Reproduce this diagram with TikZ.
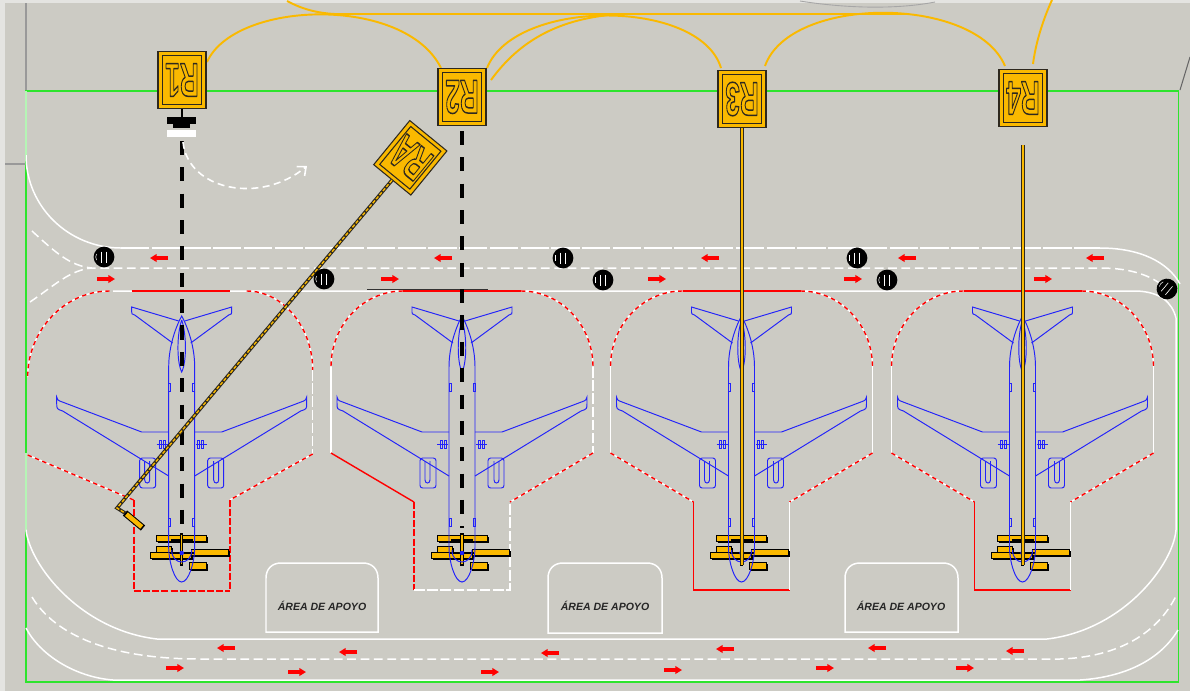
\documentclass[tikz,border=0pt]{standalone}
\usepackage{fontspec}
\usepackage{graphicx}
\setmainfont{Liberation Sans}
\usetikzlibrary{arrows.meta,calc}

\definecolor{apron}{RGB}{204,203,196}
\definecolor{edge}{RGB}{228,228,225}
\definecolor{limit}{RGB}{45,228,45}
\definecolor{signyel}{RGB}{250,185,0}
\definecolor{signdark}{RGB}{45,40,30}
\definecolor{acblue}{RGB}{35,35,250}
\definecolor{mark}{RGB}{255,0,0}

% glyphs filled in the current colour and stroked dark
\newcommand\outlined[1]{\special{pdf:literal direct 0.18 0.16 0.12 RG 0.85 w 1 j 2 Tr}#1\special{pdf:literal direct 0 Tr}}

\tikzset{
  wline/.style={draw=white, line width=0.85pt},
  wdash/.style={wline, dash pattern=on 5pt off 2.6pt},
  wlong/.style={wline, dash pattern=on 16pt off 1.5pt},
  wgap/.style={draw=white, line width=0.8pt, dash pattern=on 6pt off 1.5pt},
  rsolid/.style={draw=mark, line width=0.8pt},
  rw/.style={draw=white, line width=0.8pt, postaction={draw=mark, dash pattern=on 2.5pt off 2pt}},
  rbox/.style={draw=mark, line width=1pt, dash pattern=on 4pt off 1.2pt},
  acline/.style={draw=acblue, line width=0.55pt},
  leadblack/.style={draw=black, line width=2.2pt, dash pattern=on 8pt off 7pt},
  leadyel/.style={draw=signdark, line width=2pt, postaction={draw=signyel, line width=0.8pt}},
  leadyeldash/.style={draw=signdark, line width=2pt, postaction={draw=signyel, line width=0.8pt, dash pattern=on 2pt off 1pt}},
  arcline/.style={draw=signyel, line width=1.1pt},
  redarrow/.style={draw=mark, line width=1.8pt, -{Triangle[length=3.8pt,width=4.4pt]}},
  signouter/.style={draw=signdark, fill=signyel, line width=0.6pt, minimum width=0.96cm, minimum height=1.14cm, inner sep=0pt},
  signinner/.style={draw=signdark, line width=0.6pt, minimum width=0.78cm, minimum height=0.98cm, inner sep=0pt},
  signtxt/.style={font=\bfseries\fontsize{27}{27}\selectfont, text=signyel, inner sep=0pt},
  apoyo/.style={font=\bfseries\itshape\fontsize{6}{6}\selectfont, text=black!85, inner sep=0pt},
  pics/toright/.style={code={\draw[redarrow] (-9,0) -- (9,0);}},
  pics/toleft/.style={code={\draw[redarrow] (9,0) -- (-9,0);}},
  pics/marker/.style={code={
    \fill[black] (0,0) circle (5.9pt);
    \draw[white, line width=0.35pt] (-3,-5.5) -- (-3,5.5) (2.5,-5.5) -- (2.5,5.5);
    \draw[white, line width=0.3pt] (-7.5,-3) .. controls (-8.5,0) .. (-7.5,3);
  }},
  pics/gse/.style={code={
    \foreach \xa/\ya/\xb/\yb in {-25/535/25/541.5, -25/546/-10/552, -31/552/10/558, 10/549/47/555, 8/562/25/569} {
      \fill[black] (\xa+1.5,\ya+1.5) rectangle (\xb+1.5,\yb+1.5);
      \filldraw[fill=signyel, draw=black, line width=0.4pt] (\xa,\ya) rectangle (\xb,\yb);
    }
    \draw[black, line width=1.4pt] (-11,540) -- (11,540);
    \draw[black, line width=1.2pt] (-12,553) -- (12,553);
    \draw[black, line width=2pt] (0,533) -- (0,566);
    \draw[signyel, line width=0.7pt] (0,535) -- (0,564);
  }},
  pics/aircraft/.style={code={
    % fuselage and nose
    \draw[acline] (-13,367) -- (-13,547) .. controls (-13,562) and (-7,582) .. (0,582)
      .. controls (7,582) and (13,562) .. (13,547) -- (13,367)
      .. controls (13,345) and (5,325) .. (0,316) .. controls (-5,325) and (-13,345) .. (-13,367) -- cycle;
    % fin seen from above
    \draw[acline] (0,320) .. controls (-5,335) and (-5,362) .. (0,372) .. controls (5,362) and (5,335) .. (0,320);
    % cockpit
    \draw[acline] (-10,550) .. controls (-10,566) and (10,566) .. (10,550);
    \fill[acblue] (0,553) circle (1.3pt);
    \foreach \s in {1,-1} {
      % tailplane
      \draw[acline] (-3*\s,321) -- (-50*\s,307) -- (-50*\s,312) .. controls (-50*\s,314) .. (-47*\s,315) -- (-9*\s,343);
      % wing with winglet
      \draw[acline] (-13*\s,432) -- (-40*\s,432) -- (-122*\s,401) .. controls (-124*\s,400) .. (-125*\s,397)
        -- (-125*\s,403) .. controls (-125*\s,409) .. (-119*\s,411) -- (-13*\s,476);
      % engine nacelle
      \draw[acline, rounded corners=1.5pt] (-42*\s,458) rectangle (-26*\s,488);
      \draw[acline] (-37*\s,461) -- (-37*\s,480) .. controls (-37*\s,484) and (-32*\s,484) .. (-32*\s,480) -- (-32*\s,461);
      % main gear
      \draw[acline] (-25*\s,444) -- (-14*\s,444);
      \draw[acline] (-22*\s,440) rectangle (-20*\s,448);
      \draw[acline] (-18*\s,440) rectangle (-16*\s,448);
      % doors
      \draw[acline] (-13*\s,383) rectangle (-11*\s,391);
      \draw[acline] (-13*\s,518) rectangle (-11*\s,526);
    }
  }}
}

% sign board: name, centre, rotation, label
\newcommand\drawsign[4]{%
  \node[signouter, rotate=#3] (#1) at (#2) {};
  \node[signinner, rotate=#3] at (#2) {};
  \node[signtxt, rotate=#3+180] at (#2) {\outlined{\scalebox{0.55}[1]{#4}}};
}

\begin{document}
\begin{tikzpicture}[x=0.02cm,y=-0.02cm]
\useasboundingbox (0,0) rectangle (1190,691);
\fill[edge] (0,0) rectangle (1190,691);
\fill[apron] (5,3) rectangle (1190,691);

% outer survey lines
\draw[black!40, line width=0.6pt] (26,3) -- (26,164) (5,164) -- (26,164);
\draw[black!35, line width=0.5pt] (800,1) .. controls (850,9) and (900,9) .. (935,2);
\draw[black!60, line width=0.6pt] (1180,90) -- (1190,57);

% apron limit
\draw[limit, line width=0.7pt] (26,91) rectangle (1178.5,682);

% overhead bridge arcs
\draw[arcline] (207,62) .. controls (235,0) and (405,-5) .. (441,68);
\draw[arcline] (287,1) .. controls (300,8) and (315,13) .. (335,14) -- (905,14);
\draw[arcline] (487,68) .. controls (515,-2) and (700,-2) .. (721,68);
\draw[arcline] (491,80) .. controls (520,40) and (560,18) .. (620,14);
\draw[arcline] (765,66) .. controls (790,-5) and (975,-5) .. (1005,66);
\draw[arcline] (1033,64) .. controls (1036,40) and (1045,15) .. (1052,0);

% upper service lane
\draw[wline] (26,91) -- (26,155) .. controls (26,207) and (69,248) .. (121,248);
\draw[wlong] (121,248) -- (1100,248);
\draw[wline] (1100,248) .. controls (1140,248) and (1168,262) .. (1180,284);
\draw[wdash] (32,231) .. controls (55,252) and (70,266) .. (92,268) -- (1100,268)
  .. controls (1132,268) and (1152,276) .. (1166,288);
\draw[wdash] (30,302) .. controls (55,285) and (70,270) .. (92,268);
\draw[wline] (113,291) -- (1137,291) .. controls (1160,292) and (1172,302) .. (1176,318);

% apron edge and lower service lane
\draw[wline] (1176,318) -- (1176,530) .. controls (1173,565) and (1123,630) .. (1047,639)
  -- (157,639) .. controls (80,630) and (30,565) .. (26,530) -- (26,453);
\draw[wdash] (32,597) .. controls (55,635) and (110,659) .. (200,659) -- (1060,659)
  .. controls (1120,657) and (1158,632) .. (1176,596);
\draw[wline] (26,628) .. controls (40,655) and (75,677) .. (113,680) -- (1080,680)
  .. controls (1125,677) and (1160,660) .. (1178,630);
\draw[black!80, line width=0.6pt] (367,289.5) -- (488,289.5);

% support areas
\draw[wline] (266,632) -- (266,578) .. controls (266,569) and (272,563) .. (281,563) -- (363,563)
  .. controls (372,563) and (378,569) .. (378,578) -- (378,632) -- cycle;
\draw[wline] (548,633) -- (548,578) .. controls (548,569) and (554,563) .. (563,563) -- (647,563)
  .. controls (656,563) and (662,569) .. (662,578) -- (662,633) -- cycle;
\draw[wline] (845,632) -- (845,578) .. controls (845,569) and (851,563) .. (860,563) -- (943,563)
  .. controls (952,563) and (958,569) .. (958,578) -- (958,632) -- cycle;
\node[apoyo] (ap1) at (322,606) {ÁREA DE APOYO};
\node[apoyo] (ap2) at (605,606) {ÁREA DE APOYO};
\node[apoyo] (ap3) at (901,606) {ÁREA DE APOYO};

% stand 1
\begin{scope}[shift={(181.7,0)}]
  \draw[rw] (-72,291) .. controls (-117,291) and (-154,330) .. (-154,377);
  \draw[rw] (65,291) .. controls (101,291) and (131,327) .. (131,370);
  \draw[rsolid] (-50,291) -- (48,291);
  \draw[wgap] (131,370) -- (131,454);
  \draw[rw] (-154,455) -- (-48,500);
  \draw[rw] (131,454) -- (48,500);
\end{scope}
\draw[rbox] (134,500) -- (134,591);
\draw[rbox] (134,591) -- (230,591);
\draw[rbox] (230,500) -- (230,591);
% stand 2
\begin{scope}[shift={(462,0)}]
  \draw[rw] (-59,291) .. controls (-99,291) and (-131,325) .. (-131,367);
  \draw[rw] (59,291) .. controls (99,291) and (131,325) .. (131,367);
  \draw[rsolid] (-59,291) -- (59,291);
  \draw[wline] (-131,367) -- (-131,453);
  \draw[wgap] (131,367) -- (131,453);
  \draw[rsolid] (-131,453) -- (-48,502);
  \draw[rw] (131,453) -- (48,502);
  \draw[rbox] (-48,502) -- (-48,590);
  \draw[wgap] (-48,590) -- (48,590) -- (48,502);
\end{scope}
% stands 3 and 4
\foreach \cx in {741.5,1022.5} {
\begin{scope}[shift={(\cx,0)}]
  \draw[rw] (-59,291) .. controls (-99,291) and (-131,325) .. (-131,367);
  \draw[rw] (59,291) .. controls (99,291) and (131,325) .. (131,367);
  \draw[rsolid] (-59,291) -- (59,291);
  \draw[wline] (-131,367) -- (-131,453);
  \draw[wline] (131,367) -- (131,453);
  \draw[rw] (-131,453) -- (-48,502);
  \draw[rw] (131,453) -- (48,502);
  \draw[rsolid] (-48,502) -- (-48,590) -- (48,590);
  \draw[wline] (48,590) -- (48,502);
\end{scope}
}

% ground equipment and aircraft
\foreach \cx in {181.7,462,741.5,1022.5} {
  \pic at (\cx,0) {gse};
  \pic at (\cx,0) {aircraft};
}

% stop bar of stand 1
\fill[black] (167,117) rectangle (196,124);
\fill[black] (173,124) rectangle (190,128);
\fill[white] (167,130) rectangle (196,137);

% lead-in lines
\draw[leadblack] (181.7,141) -- (181.7,528);
\draw[leadblack] (462,131) -- (462,528);
\draw[wline, line width=0.9pt, dash pattern=on 4pt off 2.5pt, -{Straight Barb[length=4pt,width=7pt]}]
  (183,142) .. controls (188,190) and (260,205) .. (307,166);

% signs
\drawsign{r1}{182,80}{0}{R1}
\drawsign{r2}{462,97}{0}{R2}
\drawsign{r3}{742,99}{0}{R3}
\drawsign{r4}{1023,98}{0}{R4}
\drawsign{ra}{410.3,157.8}{-39.3}{RA}

\draw[black, line width=1.6pt] (r1.south) -- (182,117);
\coordinate (r3end) at (742,565);
\coordinate (r4top) at (1023,145);
\coordinate (r4end) at (1023,565);
\draw[leadyel] (r3.south) -- (r3end);
\draw[leadyel] (r4top) -- (r4end);
\coordinate (rabend) at (117,508);
\coordinate (rafoot) at (125,513);
\coordinate (rabar) at (143,528);
\draw[leadyeldash] (ra.south) -- (rabend) -- (rafoot);
\draw[black, line width=3.8pt] (rafoot) -- (rabar);
\draw[signyel, line width=2.6pt] ($(rafoot)!0.08!(rabar)$) -- ($(rafoot)!0.93!(rabar)$);

% lane direction arrows
\foreach \x in {159,443,710,907,1095} \pic at (\x,258) {toleft};
\foreach \x in {106,390,657,853,1043} \pic at (\x,279) {toright};
\foreach \x/\y in {226/648,348/652,550/653,725/649,877/648,1015/651} \pic at (\x,\y) {toleft};
\foreach \x/\y in {175/668,297/672,490/672,673/670,825/668,965/668} \pic at (\x,\y) {toright};

% lane markers
\foreach \x/\y in {104/257,324/279,563/258,603/280,857/258,887/280} \pic at (\x,\y) {marker};
\pic[rotate=-40] at (1167,289) {marker};

\end{tikzpicture}
\end{document}
